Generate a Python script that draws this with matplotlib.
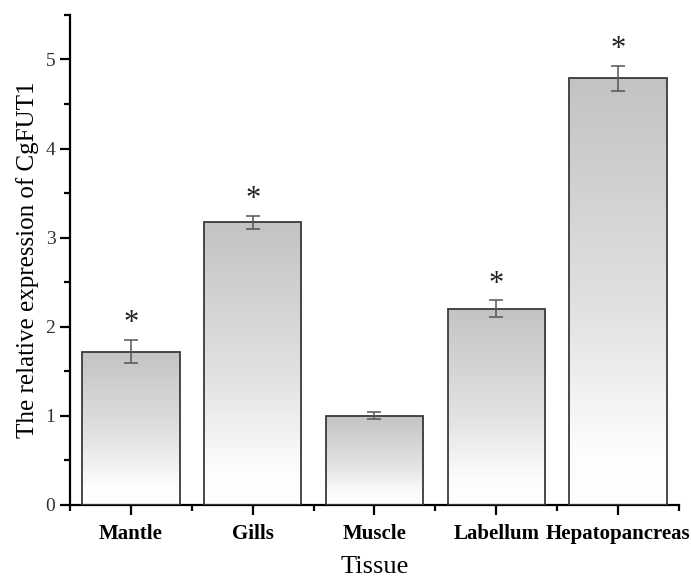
import numpy as np
import matplotlib
matplotlib.use('Agg')
import matplotlib.pyplot as plt
from matplotlib.ticker import MultipleLocator, FixedLocator

tissues = ['Mantle', 'Gills', 'Muscle', 'Labellum', 'Hepatopancreas']
expr = [1.72, 3.17, 1.00, 2.20, 4.79]
err = [0.13, 0.07, 0.04, 0.095, 0.14]
marks = ['*', '*', '', '*', '*']

plt.rcParams['font.family'] = ['Liberation Serif', 'DejaVu Serif']

fig = plt.figure(figsize=(6.91, 5.78), dpi=100)
ax = fig.add_axes([0.1013, 0.1263, 0.8813, 0.848])

x = np.arange(len(tissues))
bars = ax.bar(x, expr, width=0.8, color='none', edgecolor='#3a3a3a', linewidth=1.3, zorder=3)

# vertical gradient inside each bar: gray at top -> white at bottom
grad = np.linspace(0, 1, 256).reshape(-1, 1)
cmap = matplotlib.colors.LinearSegmentedColormap.from_list(
    'g', [(0.0, '#ffffff'), (0.12, '#fdfdfd'), (0.45, '#e2e2e2'), (1.0, '#c3c3c3')])
for b in bars:
    x0, w, h = b.get_x(), b.get_width(), b.get_height()
    im = ax.imshow(grad, extent=[x0, x0 + w, 0, h], origin='lower', aspect='auto',
                   cmap=cmap, vmin=0, vmax=1, zorder=2)
    im.set_clip_path(b)

ax.errorbar(x, expr, yerr=err, fmt='none', ecolor='#555555', elinewidth=1.1,
            capsize=5, capthick=1.1, zorder=4)

for xi, v, e, m in zip(x, expr, err, marks):
    if m:
        ax.text(xi, v + e + 0.02, m, ha='center', va='bottom', fontsize=22, color='#222222')

ax.set_xlim(-0.5, 4.5)
ax.set_ylim(0, 5.5)
ax.set_xticks(x)
ax.set_xticklabels(tissues, fontweight='bold', fontsize=15)
ax.xaxis.set_minor_locator(FixedLocator(np.arange(-0.5, 5, 1)))
ax.yaxis.set_major_locator(MultipleLocator(1))
ax.yaxis.set_minor_locator(MultipleLocator(0.5))
ax.set_yticks([0, 1, 2, 3, 4, 5])
ax.tick_params(axis='y', labelsize=14, labelcolor='#333333')
ax.tick_params(which='major', length=7, width=1.6, direction='out')
ax.tick_params(which='minor', length=4, width=1.6, direction='out')
ax.tick_params(axis='x', pad=7)

for s in ['top', 'right']:
    ax.spines[s].set_visible(False)
for s in ['left', 'bottom']:
    ax.spines[s].set_linewidth(1.6)

ax.set_ylabel('The relative expression of CgFUT1', fontsize=18, labelpad=5)
ax.set_xlabel('Tissue', fontsize=19, labelpad=8)

fig.savefig('out.png', dpi=100)
